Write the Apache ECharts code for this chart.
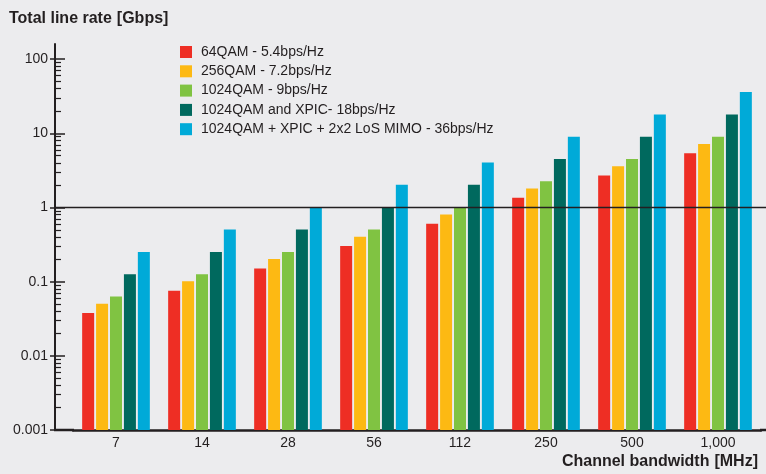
<!DOCTYPE html>
<html><head><meta charset="utf-8">
<script src="https://cdn.jsdelivr.net/npm/echarts@6/dist/echarts.min.js"></script>
<style>html,body{margin:0;padding:0;background:#ececee}#c{width:766px;height:474px}</style>
</head><body><div id="c"></div>
<script>
const categories = ['7', '14', '28', '56', '112', '250', '500', '1,000'];
const seriesNames = [
  '64QAM - 5.4bps/Hz',
  '256QAM - 7.2bps/Hz',
  '1024QAM - 9bps/Hz',
  '1024QAM and XPIC- 18bps/Hz',
  '1024QAM + XPIC + 2x2 LoS MIMO - 36bps/Hz'
];
const qam64 = [0.0378, 0.0756, 0.151, 0.302, 0.605, 1.35, 2.7, 5.4];
const qam256 = [0.0504, 0.101, 0.202, 0.403, 0.806, 1.8, 3.6, 7.2];
const qam1024 = [0.063, 0.126, 0.252, 0.504, 1.01, 2.25, 4.5, 9];
const qam1024Xpic = [0.126, 0.252, 0.504, 1.01, 2.02, 4.5, 9, 18];
const qam1024XpicMimo = [0.252, 0.504, 1.01, 2.02, 4.03, 9, 18, 36];
const majorTicks = [0.001, 0.01, 0.1, 1, 10, 100];
const minorTicks = [
  0.002, 0.003, 0.004, 0.005, 0.006, 0.007, 0.008, 0.009,
  0.02, 0.03, 0.04, 0.05, 0.06, 0.07, 0.08, 0.09,
  0.2, 0.3, 0.4, 0.5, 0.6, 0.7, 0.8, 0.9,
  2, 3, 4, 5, 6, 7, 8, 9,
  20, 30, 40, 50, 60, 70, 80, 90
];
// invisible floor under each bar so that bars rise from the bottom of the log axis
const floorValues = [1e-7, 1e-7, 1e-7, 1e-7, 1e-7, 1e-7, 1e-7, 1e-7];
const colors = ['#ee2e24', '#fdb913', '#80c342', '#00695e', '#00aad8'];
const allValues = [qam64, qam256, qam1024, qam1024Xpic, qam1024XpicMimo];

const FONT = '"Liberation Sans", Arial, sans-serif';
const INK = '#231f20';
const Y_MIN = 0.001, Y_MAX = 160;
const GRID_LEFT = 73, GRID_RIGHT = 5, AXIS_OFFSET = 18;

const chart = echarts.init(document.getElementById('c'), null, {renderer: 'canvas'});

function yAx(extra) {
  return Object.assign({
    type: 'log', min: Y_MIN, max: Y_MAX, offset: AXIS_OFFSET, position: 'left',
    axisLine: {show: false},
    axisLabel: {show: false},
    splitLine: {show: false},
    minorTick: {show: false}
  }, extra);
}

const series = [];
seriesNames.forEach(function (name, i) {
  series.push({
    name: '_floor' + i, type: 'bar', stack: 's' + i, data: floorValues,
    barWidth: 12, barGap: '16%', silent: true, clip: true,
    itemStyle: {color: 'rgba(0,0,0,0)'}, legendHoverLink: false
  });
  series.push({
    name: name, type: 'bar', stack: 's' + i, data: allValues[i],
    barWidth: 12, barGap: '16%', clip: true,
    itemStyle: {color: colors[i]}
  });
});

const option = {
  backgroundColor: '#ececee',
  animation: false,
  color: colors,
  textStyle: {fontFamily: FONT},
  title: [
    {
      text: '{b|Total line rate} {n|[Gbps]}',
      left: 9, top: 10, padding: 0,
      textStyle: {rich: {
        b: {fontWeight: 'bold', fontSize: 16, color: INK, fontFamily: FONT},
        n: {fontSize: 16, color: INK, fontFamily: FONT}
      }}
    },
    {
      text: '{b|Channel bandwidth} {n|[MHz]}',
      right: 8, bottom: 3, padding: 0,
      textStyle: {rich: {
        b: {fontWeight: 'bold', fontSize: 16, color: INK, fontFamily: FONT},
        n: {fontSize: 16, color: INK, fontFamily: FONT}
      }}
    }
  ],
  legend: {
    orient: 'vertical', left: 180, top: 45, padding: 0,
    itemWidth: 12, itemHeight: 12, itemGap: 5.3,
    icon: 'rect',
    data: seriesNames,
    textStyle: {fontSize: 14, color: INK, fontFamily: FONT, padding: [0, 0, 0, 4]}
  },
  grid: {left: GRID_LEFT, right: GRID_RIGHT, top: 44, bottom: 44, containLabel: false},
  xAxis: {
    type: 'category', data: categories,
    axisLine: {show: true, lineStyle: {color: INK, width: 2.5}},
    axisTick: {show: false},
    axisLabel: {color: INK, fontSize: 14, margin: 6, fontFamily: FONT},
    splitLine: {show: false}
  },
  yAxis: [
    yAx({
      axisLine: {show: true, lineStyle: {color: INK, width: 2}},
      axisTick: {show: true, inside: false, length: 5, customValues: majorTicks, lineStyle: {color: INK, width: 1.5}},
      axisLabel: {show: true, customValues: majorTicks, color: INK, fontSize: 14, margin: 7, fontFamily: FONT,
        formatter: function (v) { return String(v); }}
    }),
    yAx({
      axisTick: {show: true, inside: true, length: 10, customValues: majorTicks, lineStyle: {color: INK, width: 1.5}}
    }),
    yAx({
      axisTick: {show: true, inside: true, length: 6, customValues: minorTicks, lineStyle: {color: INK, width: 1.2}}
    })
  ],
  series: series
};
chart.setOption(option);

const yOne = chart.convertToPixel({yAxisIndex: 0}, 1);
const yBase = chart.convertToPixel({yAxisIndex: 0}, Y_MIN);
const axisX = GRID_LEFT - AXIS_OFFSET;
chart.setOption({
  graphic: [
    {type: 'line', z: 10, silent: true, shape: {x1: axisX, y1: yOne, x2: 766, y2: yOne}, style: {stroke: INK, lineWidth: 1.5}},
    {type: 'line', z: 10, silent: true, shape: {x1: axisX - 1, y1: yBase, x2: GRID_LEFT + 1, y2: yBase}, style: {stroke: INK, lineWidth: 2.5}},
    {type: 'line', z: 10, silent: true, shape: {x1: 766 - GRID_RIGHT - 1, y1: yBase, x2: 766, y2: yBase}, style: {stroke: INK, lineWidth: 2.5}}
  ]
});
</script>
</body></html>
